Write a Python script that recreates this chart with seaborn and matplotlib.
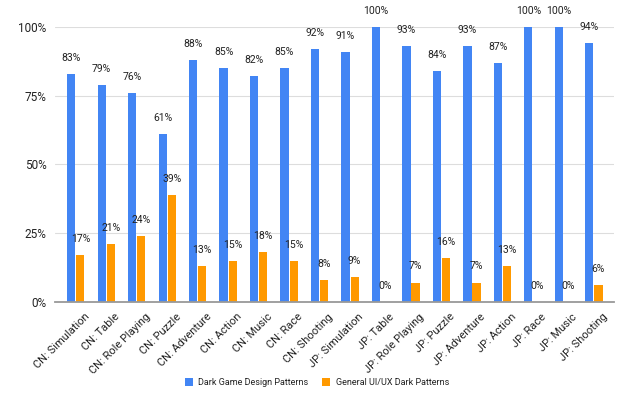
import seaborn as sns
import pandas as pd
import matplotlib.pyplot as plt
from matplotlib.transforms import ScaledTranslation

categories = ['CN: Simulation', 'CN: Table', 'CN: Role Playing', 'CN: Puzzle', 'CN: Adventure',
              'CN: Action', 'CN: Music', 'CN: Race', 'CN: Shooting', 'JP: Simulation',
              'JP: Table', 'JP: Role Playing', 'JP: Puzzle', 'JP: Adventure', 'JP: Action',
              'JP: Race', 'JP: Music', 'JP: Shooting']
dark_game = [83, 79, 76, 61, 88, 85, 82, 85, 92, 91, 100, 93, 84, 93, 87, 100, 100, 94]
general_ui = [17, 21, 24, 39, 13, 15, 18, 15, 8, 9, 0, 7, 16, 7, 13, 0, 0, 6]
series_names = ['Dark Game Design Patterns', 'General UI/UX Dark Patterns']
colors = ['#4285F4', '#FF9900']

df = pd.DataFrame({
    'category': categories * 2,
    'value': dark_game + general_ui,
    'series': [series_names[0]] * len(categories) + [series_names[1]] * len(categories),
})

sns.set_theme(style='white')
plt.rcParams['font.family'] = ['Roboto', 'DejaVu Sans']

fig = plt.figure(figsize=(6.34, 4.09), dpi=100)
ax = fig.add_axes([0.0868, 0.262, 0.8817, 0.672])

sns.barplot(data=df, x='category', y='value', hue='series', palette=colors,
            width=0.6, gap=0.1, saturation=1, linewidth=0, ax=ax, legend=True)

for cont in ax.containers:
    vals = [int(round(b.get_height())) for b in cont]
    ax.bar_label(cont, labels=[f'{v}%' for v in vals], padding=8, fontsize=7.5, color='#222222')

ax.set_ylim(0, 100)
ax.set_xlim(-0.68, len(categories) - 1 + 0.66)
ax.set_yticks([0, 25, 50, 75, 100])
ax.set_yticklabels(['0%', '25%', '50%', '75%', '100%'], fontsize=8.5, color='#222222')
ax.yaxis.grid(True, color='#dddddd', linewidth=0.8)
ax.set_axisbelow(True)
for s in ['top', 'right', 'left']:
    ax.spines[s].set_visible(False)
ax.spines['bottom'].set_color('#999999')
ax.spines['bottom'].set_linewidth(1.3)
ax.spines['bottom'].set_zorder(5)
ax.tick_params(axis='y', length=0, pad=6)
ax.tick_params(axis='x', length=0, pad=7)
shift = ScaledTranslation(6 / 72, 0, fig.dpi_scale_trans)
for lbl in ax.get_xticklabels():
    lbl.set_rotation(45)
    lbl.set_ha('right')
    lbl.set_rotation_mode('anchor')
    lbl.set_fontsize(8)
    lbl.set_color('#222222')
    lbl.set_transform(lbl.get_transform() + shift)
ax.set_xlabel('')
ax.set_ylabel('')

handles, labels = ax.get_legend_handles_labels()
ax.get_legend().remove()
fig.legend(handles, labels, loc='center', bbox_to_anchor=(0.5, 0.064), ncol=2,
           frameon=False, fontsize=6.5, handlelength=0.9, handleheight=0.9,
           columnspacing=1.5, handletextpad=0.6, labelcolor='#222222')

fig.savefig('out.png', dpi=100)
